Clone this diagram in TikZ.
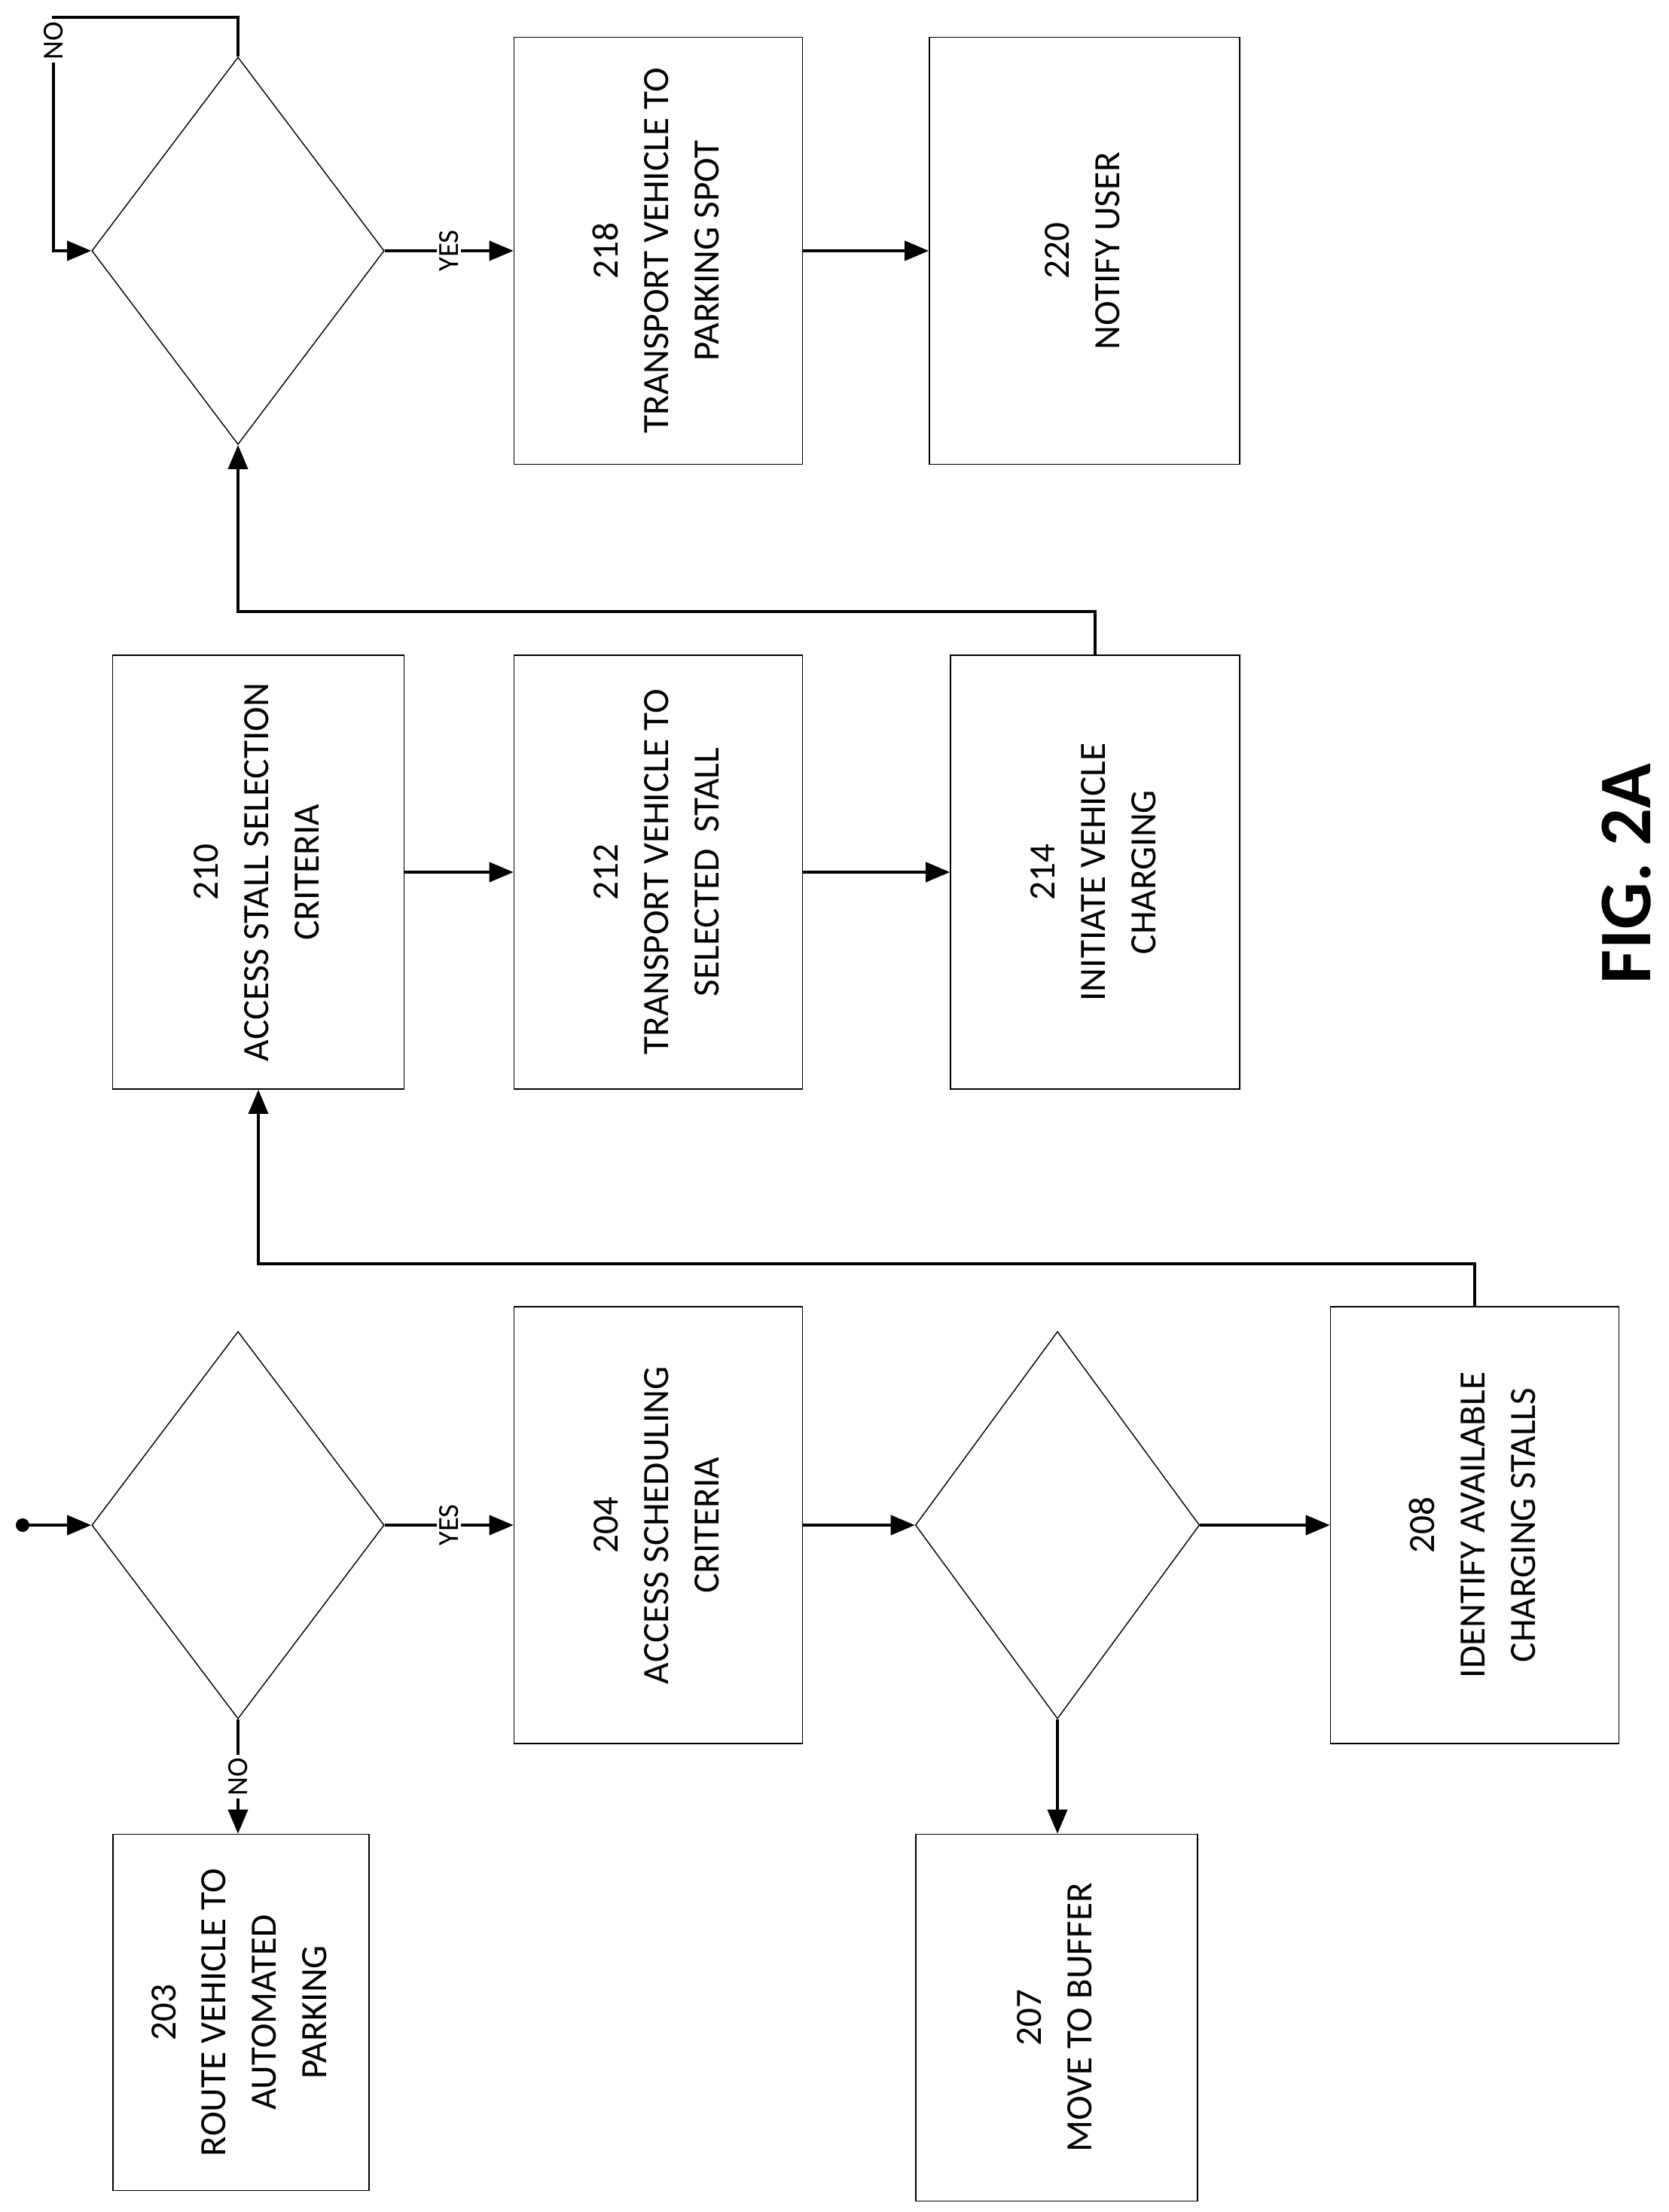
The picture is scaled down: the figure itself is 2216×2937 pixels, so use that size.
\documentclass[tikz,border=0pt]{standalone}
\usepackage{fontspec}
\setmainfont{Carlito}
\usetikzlibrary{positioning,arrows.meta,shapes.geometric}
\newcommand{\vtext}[1]{\rotatebox{90}{\begin{tabular}{@{}c@{}}#1\end{tabular}}}
\begin{document}
\begin{tikzpicture}[
    x=0.01cm, y=-0.01cm,
    block/.style={draw, line width=0.4pt, inner sep=0pt, font=\fontsize{14}{19}\selectfont},
    decision/.style={draw, diamond, shape aspect=0.755, line width=0.4pt, inner sep=0pt,
        minimum width=3.88cm, minimum height=5.14cm, font=\fontsize{14}{19}\selectfont,
        label={[font=\fontsize{14}{19}\selectfont]center:\vtext{#1}}},
    arrow/.style={-{Triangle[length=3.2mm, width=2.6mm]}, line width=1.1pt},
    label/.style={font=\fontsize{11}{12}\selectfont, fill=white, inner sep=1pt}
]
\useasboundingbox (0,0) rectangle (2216,2937);
% Top row
\node[decision={216\\CHARGING\\COMPLETE?}] (chk) at (316,333) {};
\node[block, minimum width=3.83cm, minimum height=5.67cm] (park) at (874,333) {\vtext{218\\TRANSPORT VEHICLE TO\\PARKING SPOT}};
\node[block, minimum width=4.12cm, minimum height=5.67cm] (notify) at (1440,333) {\vtext{220\\NOTIFY USER}};
% Middle row
\node[block, minimum width=3.87cm, minimum height=5.76cm] (crit) at (343,1158) {\vtext{210\\ACCESS STALL SELECTION\\CRITERIA}};
\node[block, minimum width=3.83cm, minimum height=5.76cm] (stall) at (874,1158) {\vtext{212\\TRANSPORT VEHICLE TO\\SELECTED\ \ STALL}};
\node[block, minimum width=3.84cm, minimum height=5.76cm] (init) at (1454,1158) {\vtext{214\\INITIATE VEHICLE\\CHARGING}};
% Bottom row
\node[decision={202\\DETECT ELECTRICAL\\VEHICLE (EV)}] (detect) at (316,2025) {};
\node[block, minimum width=3.40cm, minimum height=4.73cm] (route) at (320,2672) {\vtext{203\\ROUTE VEHICLE TO\\AUTOMATED\\PARKING}};
\node[block, minimum width=3.83cm, minimum height=5.80cm] (sched) at (874,2025) {\vtext{204\\ACCESS SCHEDULING\\CRITERIA}};
\node[decision={206\\CHARGE?}, minimum width=3.77cm] (charge) at (1404,2025) {};
\node[block, minimum width=3.74cm, minimum height=4.87cm] (buffer) at (1403,2679) {\vtext{207\\MOVE TO BUFFER}};
\node[block, minimum width=3.83cm, minimum height=5.80cm] (ident) at (1958,2025) {\vtext{208\\IDENTIFY AVAILABLE\\CHARGING STALLS}};
\node[font=\fontsize{28}{30}\selectfont\bfseries] (fig) at (2160,1160) {\rotatebox{90}{FIG. 2A}};
% Start
\coordinate (start) at (30,2025);
\fill (30,2025) circle (9);
\draw[arrow] (start) -- (detect.west);
% Arrows
\draw[arrow] (detect.east) -- node[label]{\rotatebox{90}{YES}} (sched.west);
\draw[arrow] (detect.south) -- node[label]{\rotatebox{90}{NO}} (route.north -| detect.south);
\draw[arrow] (sched.east) -- (charge.west);
\draw[arrow] (charge.east) -- (ident.west);
\draw[arrow] (charge.south) -- (buffer.north -| charge.south);
\draw[arrow] (ident.north) -- ++(0,-56) -| (crit.south);
\draw[arrow] (crit) -- (stall);
\draw[arrow] (stall) -- (init);
\draw[arrow] (init.north) -- ++(0,-57) -| (chk.south);
\draw[arrow] (chk.east) -- node[label]{\rotatebox{90}{YES}} (park.west);
\draw[arrow] (park) -- (notify);
\draw[arrow] (chk.north) -- (316,23) -- (71,23) -- node[label, pos=0.1]{\rotatebox{90}{NO}} (71,333) -- (chk.west);
\end{tikzpicture}
\end{document}
